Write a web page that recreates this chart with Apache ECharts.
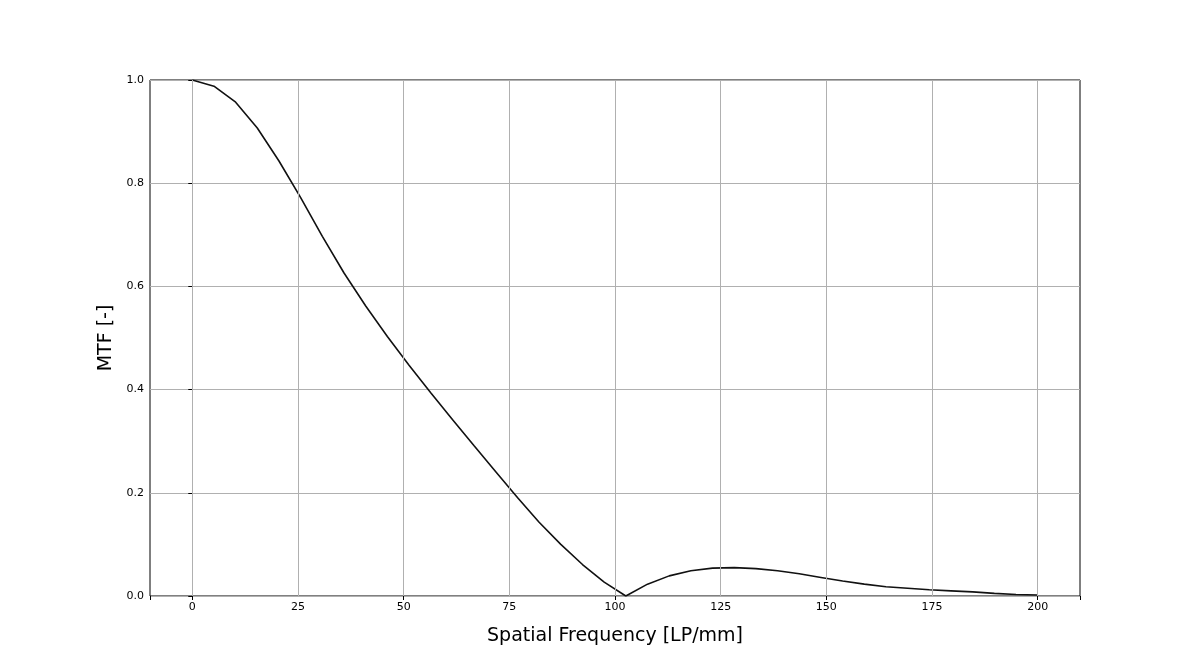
<!DOCTYPE html>
<html>
<head>
<meta charset="utf-8">
<script src="https://cdn.jsdelivr.net/npm/echarts@6/dist/echarts.min.js"></script>
<style>html,body{margin:0;padding:0;background:#fff}#chart{width:1200px;height:670px}</style>
</head>
<body>
<div id="chart"></div>
<script>
// spatial frequency samples (LP/mm)
var freq = [0, 5.13, 10.26, 15.38, 20.51, 25.64, 30.77, 35.9, 41.03, 46.15,
  51.28, 56.41, 61.54, 66.67, 71.79, 76.92, 82.05, 87.18, 92.31, 97.44,
  102.56, 107.69, 112.82, 117.95, 123.08, 128.21, 133.33, 138.46, 143.59, 148.72,
  153.85, 158.97, 164.1, 169.23, 174.36, 179.49, 184.62, 189.74, 194.87, 200];
var mtf = [1.0, 0.988, 0.957, 0.907, 0.843, 0.772, 0.697, 0.626, 0.562, 0.503,
  0.447, 0.394, 0.342, 0.291, 0.241, 0.191, 0.143, 0.100, 0.061, 0.027,
  0.0, 0.023, 0.039, 0.049, 0.054, 0.055, 0.053, 0.049, 0.043, 0.036,
  0.029, 0.023, 0.018, 0.015, 0.012, 0.010, 0.008, 0.005, 0.003, 0.002];

var chart = echarts.init(document.getElementById('chart'));
var pts = [];
for (var i = 0; i < freq.length; i++) pts.push([freq[i], mtf[i]]);

var font = 'DejaVu Sans';
chart.setOption({
  animation: false,
  grid: {left: 150, right: 120, top: 80, bottom: 74, show: true,
    borderColor: '#000', borderWidth: 1, backgroundColor: 'transparent'},
  xAxis: {
    type: 'value', min: -10, max: 210,
    name: 'Spatial Frequency [LP/mm]', nameLocation: 'middle', nameGap: 31,
    nameTextStyle: {fontFamily: font, fontSize: 19, color: '#000'},
    axisLine: {show: false},
    axisTick: {show: true, length: 4, lineStyle: {color: '#000'}},
    axisLabel: {fontFamily: font, fontSize: 11, color: '#000', margin: 6,
      customValues: [0, 25, 50, 75, 100, 125, 150, 175, 200]},
    splitLine: {show: false}
  },
  yAxis: {
    type: 'value', min: 0, max: 1, interval: 0.2,
    name: 'MTF [-]', nameLocation: 'middle', nameGap: 30,
    nameTextStyle: {fontFamily: font, fontSize: 19, color: '#000'},
    axisLine: {show: false},
    axisTick: {show: true, length: 4, lineStyle: {color: '#000'}},
    axisLabel: {fontFamily: font, fontSize: 11, color: '#000', margin: 6,
      formatter: function (v) { return v.toFixed(1); }},
    splitLine: {show: true, lineStyle: {color: '#b0b0b0', width: 1}}
  },
  series: [
    {
      type: 'line', data: pts, symbol: 'none',
      lineStyle: {color: '#111', width: 1.6},
      markLine: {
        silent: true, symbol: 'none', label: {show: false},
        lineStyle: {color: '#b0b0b0', type: 'solid', width: 1},
        data: [0, 25, 50, 75, 100, 125, 150, 175, 200].map(function (v) { return {xAxis: v}; })
      },
      z: 3
    }
  ]
});
</script>
</body>
</html>
